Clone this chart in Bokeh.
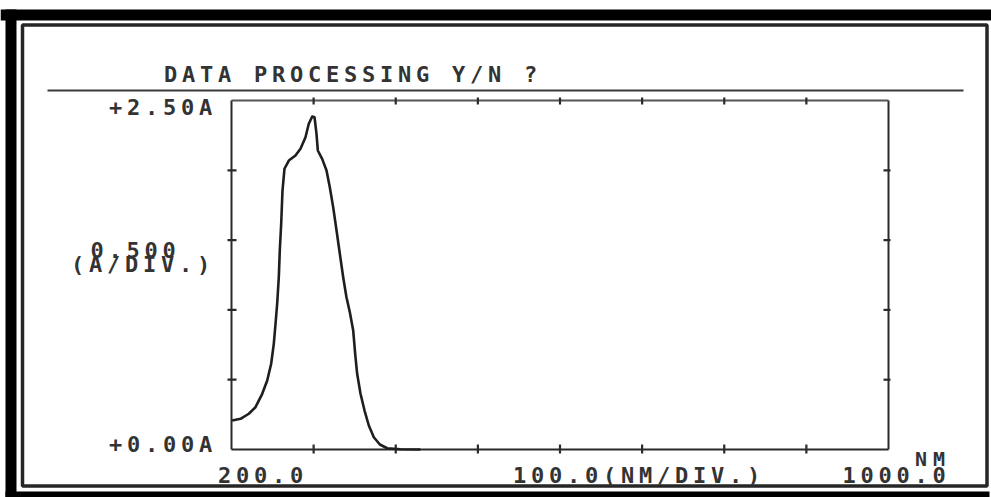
from bokeh.plotting import figure
from bokeh.models import Range1d
from bokeh.embed import file_html
from bokeh.resources import INLINE
from bokeh.core.properties import value

# ---------------- data ----------------
wavelength_nm = [200.8, 211.0, 221.1, 229.2, 237.4, 243.5, 248.3, 251.5, 253.6, 255.6,
                 257.6, 258.8, 260.5, 262.1, 264.5, 269.8, 277.9, 284.0, 290.1, 294.1,
                 298.3, 301.1, 303.5, 305.1, 310.4, 315.7, 319.7, 323.8, 327.9, 331.9,
                 336.0, 340.0, 344.1, 348.2, 350.6, 353.0, 357.1, 362.0, 367.2, 373.3,
                 380.6, 389.6, 405.8, 430.0]
absorbance_A = [0.208, 0.220, 0.256, 0.303, 0.399, 0.494, 0.614, 0.757, 0.900, 1.044,
                1.234, 1.425, 1.617, 1.855, 2.011, 2.070, 2.106, 2.154, 2.237, 2.333,
                2.385, 2.380, 2.261, 2.142, 2.082, 1.999, 1.879, 1.736, 1.569, 1.402,
                1.234, 1.091, 0.983, 0.852, 0.685, 0.542, 0.399, 0.279, 0.172, 0.088,
                0.036, 0.009, 0.002, 0.0]

x_min_nm, x_max_nm, x_step_nm = 200, 1000, 100
y_min_A, y_max_A, y_step_A = 0.0, 2.5, 0.5

title_text = "DATA PROCESSING Y/N ?"
y_top_label = "+2.50A"
y_bottom_label = "+0.00A"
y_div_value = "0.500"
y_div_unit = "(A/DIV.)"
x_left_label = "200.0"
x_div_label = "100.0(NM/DIV.)"
x_right_label = "1000.0"
x_unit_label = "NM"

# ---------------- layout (picture pixel positions) ----------------
W, H = 991, 497
ORG = 0
BOX_L, BOX_R = 231, 888     # px of x_min / x_max
BOX_T, BOX_B = 100, 449     # px of y_max / y_min

sx = (x_max_nm - x_min_nm) / (BOX_R - BOX_L)
sy = (y_max_A - y_min_A) / (BOX_B - BOX_T)

def X(px):
    return x_min_nm + (px - BOX_L) * sx

def Y(py):
    return y_min_A + (BOX_B - py) * sy

p = figure(width=W, height=H, output_backend="svg", toolbar_location=None,
           x_axis_location=None, y_axis_location=None, min_border=0,
           x_range=Range1d(X(ORG), X(ORG + W)), y_range=Range1d(Y(ORG + H), Y(ORG)))
p.outline_line_color = None
p.background_fill_color = "white"
p.border_fill_color = "white"
p.grid.visible = False

INK = "#1e1e1e"

# outer scanned frame
p.quad(left=[X(0)], right=[X(1000)], top=[Y(9)], bottom=[Y(20)], fill_color="black", line_color=None)
p.quad(left=[X(5)], right=[X(16)], top=[Y(9)], bottom=[Y(500)], fill_color="black", line_color=None)
p.quad(left=[X(5)], right=[X(989)], top=[Y(491)], bottom=[Y(500)], fill_color="black", line_color=None)
p.quad(left=[X(22)], right=[X(986.5)], top=[Y(24.5)], bottom=[Y(485.5)],
       fill_color=None, line_color="#262626", line_width=3.5)

# separator under the prompt
p.segment(x0=[X(47)], y0=[Y(90)], x1=[X(963)], y1=[Y(90)], line_color="#3a3a3a", line_width=2.2)

# plot box
p.segment(x0=[x_min_nm, x_max_nm, x_min_nm], y0=[y_min_A, y_min_A, y_min_A],
          x1=[x_min_nm, x_max_nm, x_max_nm], y1=[y_max_A, y_max_A, y_min_A],
          line_color="#2a2a2a", line_width=2)
p.segment(x0=[x_min_nm], y0=[y_max_A], x1=[x_max_nm], y1=[y_max_A],
          line_color="#555555", line_width=2)

# ticks
xt = [x_min_nm + i * x_step_nm for i in range(1, int((x_max_nm - x_min_nm) / x_step_nm))]
yt = [y_min_A + i * y_step_A for i in range(1, int(round((y_max_A - y_min_A) / y_step_A)))]
p.segment(x0=xt, y0=[y_min_A - 4 * sy] * len(xt), x1=xt, y1=[y_min_A + 5 * sy] * len(xt),
          line_color="#2a2a2a", line_width=2.2)
p.segment(x0=xt, y0=[y_max_A - 4 * sy] * len(xt), x1=xt, y1=[y_max_A + 3 * sy] * len(xt),
          line_color="#2a2a2a", line_width=2.2)
p.segment(x0=[x_min_nm - 4 * sx] * len(yt), y0=yt, x1=[x_min_nm + 5 * sx] * len(yt), y1=yt,
          line_color="#2a2a2a", line_width=2.2)
p.segment(x0=[x_max_nm - 5 * sx] * len(yt), y0=yt, x1=[x_max_nm + 2 * sx] * len(yt), y1=yt,
          line_color="#2a2a2a", line_width=2.2)

# spectrum
p.line(wavelength_nm, absorbance_A, line_color=INK, line_width=2.6, line_join="round")

# dot-matrix style texts, one character per cell (y = centre of the capitals)
def draw_text(s, first_center_px, mid_px, pitch=18.0, size="22px"):
    xs = [X(first_center_px + i * pitch) for i in range(len(s))]
    ys = [Y(mid_px)] * len(s)
    p.text(x=xs, y=ys, text=list(s), text_align="center", text_baseline="middle",
           text_font=value("DejaVu Sans Mono"), text_font_style="bold",
           text_font_size=size, text_color="#333333")

draw_text(title_text, 170, 74)
draw_text(y_top_label, 115, 106.5)
draw_text(y_bottom_label, 115, 443.5)
draw_text(y_div_value, 96.5, 249)
draw_text(y_div_unit, 77, 263.5)
draw_text(x_left_label, 224, 474.5)
draw_text(x_div_label, 519, 474.5)
draw_text(x_right_label, 848.5, 474.5)
draw_text(x_unit_label, 920.5, 458.5, size="20px")

open("out.html", "w").write(file_html(p, INLINE))
